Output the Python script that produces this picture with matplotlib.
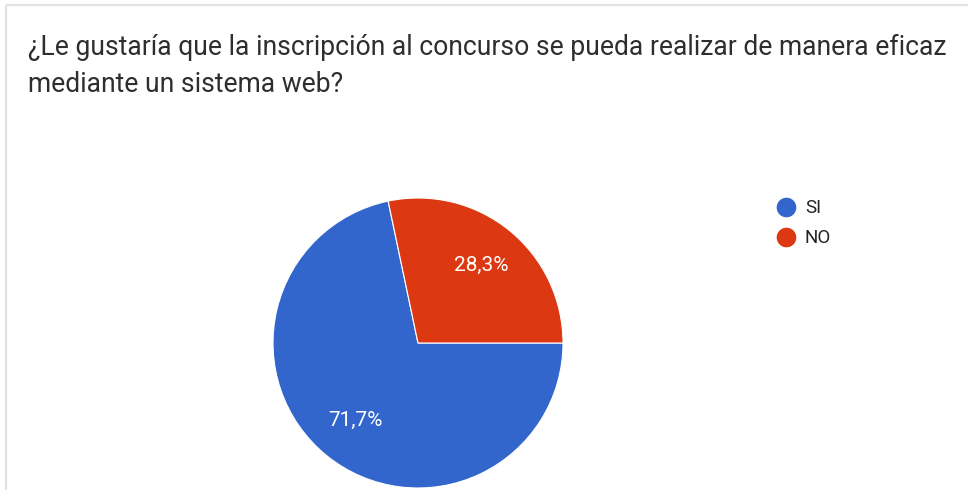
import matplotlib
matplotlib.use("Agg")
import matplotlib.pyplot as plt

# Survey answers and their shares (percent)
categories = ["SI", "NO"]
shares = [71.7, 28.3]
colors = ["#3366cc", "#dc3912"]
title = ("¿Le gustaría que la inscripción al concurso se pueda realizar de manera eficaz\n"
         "mediante un sistema web?")

W, H, DPI = 968, 490, 100
plt.rcParams["font.family"] = ["Roboto", "DejaVu Sans"]

fig = plt.figure(figsize=(W / DPI, H / DPI), dpi=DPI)
fig.patch.set_facecolor("white")

# Overlay axes in pixel coordinates for the card border, title and legend
ov = fig.add_axes([0, 0, 1, 1])
ov.set_xlim(0, W)
ov.set_ylim(H, 0)
ov.axis("off")
ov.plot([6, W], [5, 5], color="#e3e3e3", lw=1.6, solid_capstyle="butt")
ov.plot([6, 6], [5, H], color="#e3e3e3", lw=1.6, solid_capstyle="butt")
ov.text(28, 66, title, fontsize=19.1, color="#2e2e2e", va="center", ha="left",
        linespacing=1.5)

# Pie chart
cx, cy, r = 418, 343, 145
span = r * 1.25
pie_ax = fig.add_axes([(cx - span) / W, (H - cy - span) / H, 2 * span / W, 2 * span / H])
wedges, texts, autotexts = pie_ax.pie(
    shares, colors=colors, startangle=0, counterclock=False,
    autopct=lambda p: f"{p:.1f}%".replace(".", ","), pctdistance=0.69,
    wedgeprops=dict(edgecolor="white", linewidth=0.8),
    textprops=dict(color="white", fontsize=15))
pie_ax.set_xlim(-1.25, 1.25)
pie_ax.set_ylim(-1.25, 1.25)
pie_ax.set_aspect("equal")

# Legend with round markers
for i, (name, col) in enumerate(zip(categories, colors)):
    y = 207 + i * 30
    ov.scatter([786], [y], s=200, color=col, zorder=3, linewidths=0)
    ov.text(805, y + 1, name, fontsize=13.5, color="#222222", va="center", ha="left")

fig.savefig("out.png", dpi=DPI, facecolor="white")
